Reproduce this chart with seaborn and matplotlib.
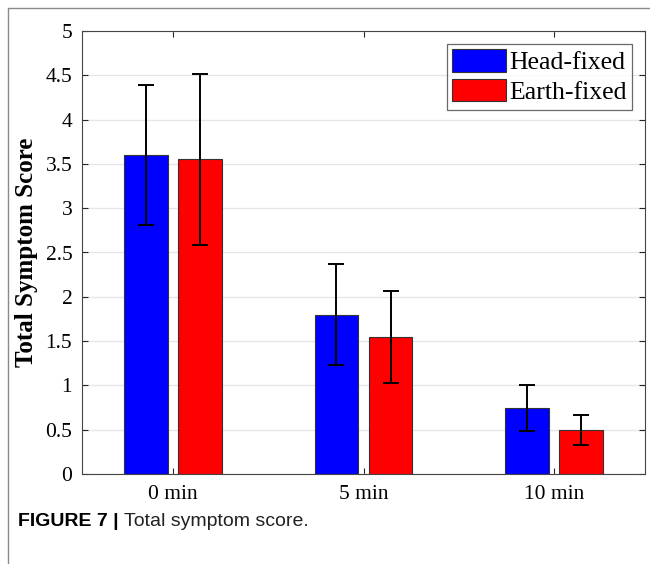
import numpy as np
import pandas as pd
import seaborn as sns
import matplotlib.pyplot as plt
from matplotlib.lines import Line2D

# Dados
tempos = ['0 min', '5 min', '10 min']
grupos = ['Head-fixed', 'Earth-fixed']
media_head = [3.60, 1.80, 0.75]
media_earth = [3.55, 1.55, 0.50]
erro_head = [0.79, 0.57, 0.26]
erro_earth = [0.97, 0.52, 0.17]
yticks = [0, 0.5, 1, 1.5, 2, 2.5, 3, 3.5, 4, 4.5, 5]

tabela = pd.DataFrame({
    'tempo': tempos * 2,
    'grupo': [grupos[0]] * 3 + [grupos[1]] * 3,
    'score': media_head + media_earth,
    'erro': erro_head + erro_earth,
})

sns.set_style('white')
plt.rcParams['font.family'] = ['Liberation Serif', 'DejaVu Serif']
plt.rcParams['text.color'] = 'black'
plt.rcParams['axes.labelcolor'] = 'black'

fig = plt.figure(figsize=(6.5, 5.64), dpi=100)
ax = fig.add_axes([82 / 650, 1 - 474 / 564, 563 / 650, 443 / 564])

sns.barplot(data=tabela, x='tempo', y='score', hue='grupo', order=tempos,
            hue_order=grupos, palette=['#0000ff', '#ff0000'], width=0.568,
            gap=0.19, errorbar=None, edgecolor='#333333', linewidth=0.8,
            saturation=1, ax=ax, zorder=2)

# Barras de erro nos centros das barras
for barra, (_, linha) in zip(ax.patches, tabela.iterrows()):
    x = barra.get_x() + barra.get_width() / 2
    ax.errorbar(x, linha['score'], yerr=linha['erro'], fmt='none',
                ecolor='black', elinewidth=1.4, capsize=6, capthick=1.4,
                zorder=3)

ax.set_xlim(-0.48, 2.48)
ax.set_ylim(0, 5)
ax.set_yticks(yticks)
ax.set_yticklabels([f'{v:g}' for v in yticks])
ax.yaxis.grid(True, color='#e6e6e6', linewidth=1.0, zorder=0)
ax.set_axisbelow(True)
ax.tick_params(axis='both', direction='in', length=4, width=0.8,
               colors='#262626', labelsize=15.5, labelcolor='black',
               top=True, right=True, left=True, bottom=True, pad=7)
ax.tick_params(axis='x', pad=8)
for lado in ax.spines.values():
    lado.set_color('#444444')
    lado.set_linewidth(0.8)

ax.set_xlabel('')
ax.set_ylabel('Total Symptom Score', fontsize=18, fontweight='bold', labelpad=5)

leg = ax.legend(loc='upper right', fontsize=18.5, frameon=True, fancybox=False,
                edgecolor='#444444', handlelength=2.1, handleheight=0.95,
                handletextpad=0.1, borderpad=0.22, labelspacing=0.18,
                borderaxespad=0.5)
leg.get_frame().set_linewidth(0.9)

# Moldura e legenda da figura
fig.add_artist(Line2D([8 / 650, 1], [1 - 8 / 564] * 2, color='#8a8a8a', lw=1.0))
fig.add_artist(Line2D([8 / 650] * 2, [0, 1 - 8 / 564], color='#8a8a8a', lw=1.0))
t1 = fig.text(18 / 650, 1 - 521 / 564, 'FIGURE 7 |', family='Liberation Sans',
              fontweight='bold', fontsize=14, va='center', ha='left', color='black')
renderer = fig.canvas.get_renderer()
caixa = t1.get_window_extent(renderer)
fig.text((caixa.x1 + 5) / 650, 1 - 521 / 564, 'Total symptom score.',
         family='Liberation Sans', fontsize=14, va='center', ha='left', color='#222222')

fig.savefig('out.png', dpi=100)
